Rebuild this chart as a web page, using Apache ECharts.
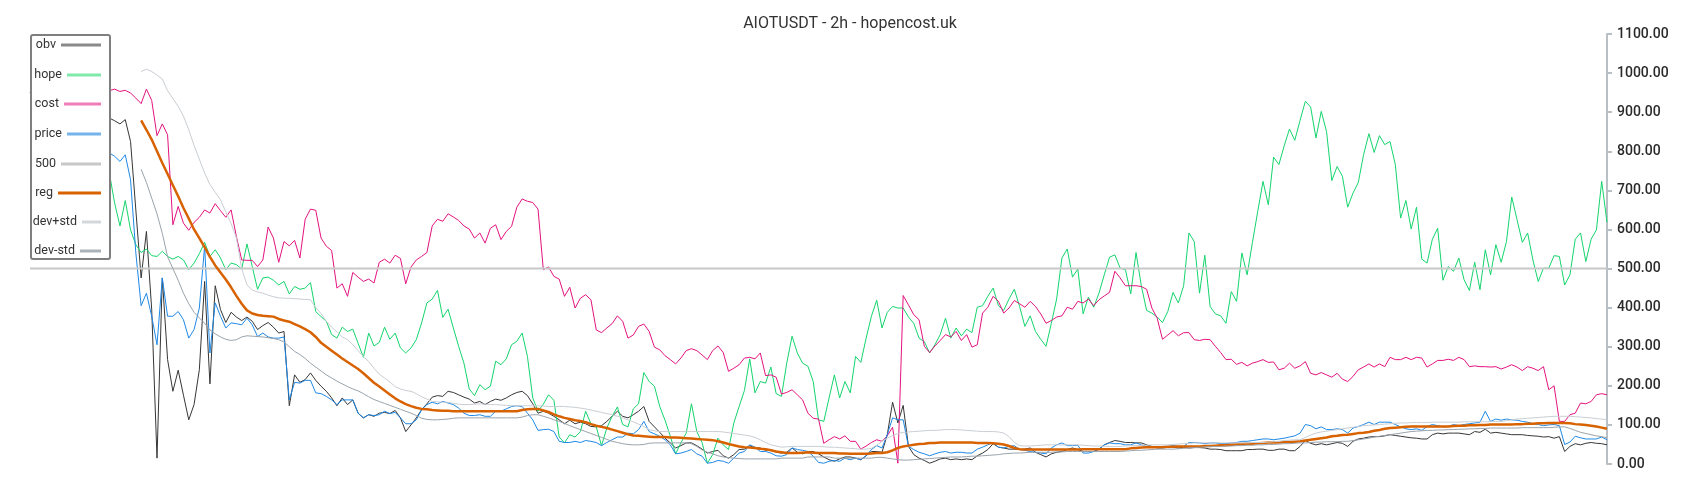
<!DOCTYPE html>
<html><head><meta charset="utf-8">
<script src="https://cdn.jsdelivr.net/npm/echarts@6.0.0/dist/echarts.min.js"></script>
<style>html,body{margin:0;padding:0;background:#fff}#chart{width:1700px;height:500px}</style>
</head><body><div id="chart"></div>
<script>
const chartTitle = 'AIOTUSDT - 2h - hopencost.uk';
const seriesNames = ['obv', 'hope', 'cost', 'price', '500', 'reg', 'dev+std', 'dev-std'];
const yMin = 0, yMax = 1100, yStep = 100;
const levelValue = 500;

const obv = [950,935,925,905,915,905,890,900,910,895,880,890,900,885,892,
885,878,870,881,825,650,476,595,395,15,476,267,186,240,176,113,152,241,467,205,456,395,362,388,376,367,376,365,344,354,362,350,335,339,149,228,209,216,233,214,199,186,169,149,169,152,164,130,118,126,122,130,132,129,137,118,83,100,118,139,154,171,175,173,186,
183,177,171,166,156,160,152,160,166,163,169,177,183,186,175,154,130,135,130,122,113,103,112,103,107,103,96,95,98,109,122,135,122,118,126,135,147,109,95,81,66,54,41,47,54,54,47,38,28,32,35,21,15,24,37,38,47,41,41,35,37,30,28,30,41,30,26,32,32,26,18,11,7,13,18,18,15,11,21,32,32,30,75,158,105,
150,45,24,15,9,2,7,13,15,11,13,11,13,11,21,28,37,52,43,41,38,38,37,38,41,30,24,18,26,30,32,37,41,37,32,32,32,38,49,55,60,58,55,55,54,54,49,45,41,41,43,43,41,43,41,42,42,41,38,38,37,34,34,34,34,37,37,38,38,35,35,38,38,34,34,
45,60,53,49,52,49,52,55,53,45,58,64,66,69,70,70,72,75,73,71,69,67,66,64,64,75,79,77,79,79,79,77,75,83,81,89,79,81,79,77,75,75,75,73,72,71,69,70,66,70,32,45,52,49,53,55,53,52,49];

const hope = [780,790,770,760,775,745,760,770,740,755,760,730,745,760,735,744,
667,609,674,599,561,541,550,533,531,544,531,524,531,522,497,514,538,567,531,548,527,497,514,510,499,563,505,447,476,478,470,458,467,435,454,447,450,464,390,377,365,331,322,350,339,
345,309,273,335,302,311,350,319,335,
297,284,297,318,361,412,422,444,375,396,348,301,258,192,175,203,190,199,263,254,269,305,314,335,275,169,135,153,177,163,69,54,75,69,83,135,103,95,47,92,122,146,101,95,141,154,234,211,199,147,112,71,26,54,79,154,83,55,2,24,66,49,37,105,147,188,269,182,211,207,248,180,173,258,327,284,258,250,211,113,109,169,228,169,211,182,275,260,322,378,419,348,388,403,399,
399,376,360,322,313,284,305,331,373,322,348,328,345,336,401,
405,429,450,405,393,422,447,403,352,379,339,319,301,360,422,527,550,478,499,384,427,401,437,484,529,535,501,497,435,541,456,393,386,376,362,390,439,412,456,591,569,437,534,403,384,379,360,441,416,540,484,567,646,723,663,785,766,814,857,828,
879,928,913,834,902,851,725,761,736,657,693,720,791,845,797,840,817,825,766,629,674,601,657,524,514,575,603,470,505,493,527,471,444,516,446,548,484,561,516,569,683,625,567,591,522,467,501,501,533,531,458,484,575,591,518,575,599,723,618];

const cost = [975,968,962,958,963,958,952,956,960,954,950,956,958,952,948,955,
959,953,956,949,936,922,959,930,840,870,842,612,659,616,598,618,631,650,642,666,648,631,650,582,522,521,521,505,522,606,578,516,569,558,572,527,626,652,649,578,557,546,450,461,429,
490,478,467,473,463,516,524,514,534,526,461,504,522,531,541,609,626,621,640,632,623,609,601,578,591,565,603,612,574,595,608,657,678,672,669,652,497,504,480,473,429,452,399,424,433,420,343,336,348,359,379,365,322,330,352,358,339,299,292,277,
267,256,271,290,295,290,279,267,290,302,285,237,245,254,271,273,269,284,226,228,222,179,183,190,177,164,130,117,115,53,62,70,64,72,58,58,38,46,55,62,58,72,94,2,431,407,382,369,301,285,302,316,331,325,339,316,331,299,305,
386,401,429,416,386,399,418,410,401,416,403,384,360,367,376,379,401,396,416,412,422,405,420,430,439,493,476,456,456,456,454,447,399,373,319,330,341,328,336,336,318,316,319,318,301,285,267,268,255,260,251,258,262,267,260,261,241,245,258,245,
251,262,232,228,234,228,222,232,217,211,224,241,248,256,248,256,249,273,267,267,273,267,273,271,248,256,265,265,268,265,273,267,249,251,249,249,248,249,243,248,254,248,239,249,245,239,249,190,200,109,109,126,130,156,154,160,177,180,177];

const price = [830,820,815,800,810,805,795,800,805,795,790,795,800,790,795,796,
787,774,791,727,540,405,437,378,305,476,378,378,390,369,322,344,399,557,284,412,378,348,361,359,356,373,356,326,335,325,322,322,325,164,209,207,214,214,182,180,173,164,152,164,164,164,130,118,126,124,126,135,129,132,118,103,103,113,139,152,158,154,160,156,
152,143,130,124,124,126,122,122,135,135,141,147,149,147,130,113,86,88,89,83,58,55,55,58,55,60,58,55,47,55,62,69,69,79,77,88,109,83,77,71,62,49,26,28,32,37,26,20,2,4,9,7,2,15,28,32,49,43,32,32,28,21,20,24,41,37,35,32,20,4,2,7,9,7,15,11,15,11,21,37,47,41,75,118,113,
113,45,37,30,26,21,26,30,32,28,30,30,28,28,38,43,49,55,43,41,45,47,37,35,32,30,28,26,41,49,54,47,47,48,28,28,32,38,49,54,52,52,49,49,54,49,45,43,43,45,45,47,45,45,55,55,54,52,54,54,52,52,54,55,58,58,60,62,64,64,62,64,66,69,72,79,
101,98,90,95,88,88,90,88,79,92,96,101,107,101,107,107,107,101,95,90,88,90,86,96,101,98,95,96,101,98,101,103,105,107,135,109,115,112,115,113,112,109,107,103,101,98,100,101,98,50,56,71,67,64,64,64,69,62];

const reg = [null,null,null,null,null,null,null,null,null,null,null,null,null,null,null,null,null,null,null,null,null,
879,855,830,800,770,742,713,685,655,628,600,578,555,530,508,490,472,452,430,410,393,385,381,379,378,377,371,367,364,358,352,345,337,325,310,300,290,280,270,261,252,243,232,220,208,198,188,178,168,160,153,148,144,141,140,138,137,136,136,
135,135,135,135,135,135,135,135,135,135,135,135,135,
138,140,141,141,137,133,127,122,118,115,112,110,107,102,98,95,92,88,84,80,76,73,72,71,70,69,69,69,68,68,67,66,65,64,63,62,61,58,55,51,48,45,43,42,41,39,38,35,32,30,28,28,28,29,30,29,28,28,28,28,27,27,26,26,26,26,27,28,28,30,35,41,
45,47,49,51,52,54,54,55,55,55,55,55,55,55,54,54,54,53,52,50,46,41,38,37,37,37,37,37,37,37,37,37,37,37,38,38,38,38,38,38,38,38,38,40,41,42,43,43,43,43,44,44,45,45,45,45,45,46,46,47,48,48,49,50,51,52,52,53,54,55,55,55,56,56,57,58,
60,62,64,66,68,71,72,74,75,77,79,80,82,85,87,90,92,93,94,95,96,96,96,96,96,96,96,96,97,98,98,99,99,100,100,101,101,101,101,101,102,102,103,103,104,104,105,105,105,105,104,102,101,100,98,96,93,90];

const devPlus = [null,null,null,null,null,null,null,null,null,null,null,null,null,null,null,null,null,null,null,null,null,
1004,1010,1004,995,985,955,935,915,890,855,815,780,744,715,695,676,645,615,578,500,458,445,440,437,432,428,425,424,424,423,422,421,420,400,385,365,350,338,325,318,305,290,275,262,245,230,220,210,198,192,188,186,180,172,166,160,159,158,158,
155,153,152,152,153,154,153,152,152,151,150,149,149,149,149,149,149,148,147,147,147,147,146,145,143,141,138,135,132,129,126,122,118,113,108,102,96,88,85,83,83,83,83,83,83,83,83,83,83,83,83,82,80,78,76,74,72,68,62,55,49,46,43,44,45,45,45,45,45,45,44,43,43,42,41,40,39,38,38,40,48,58,66,73,78,
81,82,83,84,85,86,86,87,88,88,88,87,86,85,84,83,83,83,82,79,70,55,47,46,46,47,48,49,49,49,49,49,49,49,48,47,46,46,45,45,45,45,46,47,47,48,48,49,49,49,49,50,51,52,53,54,54,54,54,54,54,54,54,54,54,54,55,55,55,56,57,58,60,61,62,62,
68,74,79,82,84,86,88,90,92,94,96,98,99,100,101,102,103,104,105,105,106,106,106,106,107,107,107,107,107,107,108,108,108,108,108,109,109,109,111,113,115,116,117,118,119,120,121,122,122,122,122,121,120,119,118,116,115,113];

const devMinus = [null,null,null,null,null,null,null,null,null,null,null,null,null,null,null,null,null,null,null,null,null,
754,720,680,640,590,530,500,470,437,410,388,374,360,343,333,325,319,316,318,325,328,327,326,325,323,321,318,312,300,288,280,270,258,248,238,228,220,212,205,198,192,187,180,172,165,160,155,150,145,140,135,130,124,117,114,113,113,114,115,
117,118,118,118,118,118,118,118,118,118,118,118,118,120,124,126,126,122,118,113,109,104,98,93,88,83,78,73,68,63,58,55,52,50,49,49,50,53,54,54,54,54,54,54,54,52,45,36,30,26,21,18,16,15,14,13,13,13,13,13,13,13,15,15,15,15,15,18,18,18,18,18,15,15,15,15,15,15,15,15,17,17,15,13,11,
10,10,11,12,13,14,15,16,17,18,18,18,19,20,20,21,22,23,24,26,27,28,28,29,30,30,30,30,30,31,31,32,32,32,32,32,32,32,32,32,32,32,33,34,35,35,36,37,38,38,38,38,39,40,41,42,43,44,45,45,45,46,46,47,47,48,48,49,49,50,50,51,52,52,53,54,
54,55,56,56,57,57,57,58,58,60,62,64,66,69,71,73,75,77,79,81,83,84,85,86,86,87,87,88,88,89,89,90,90,91,91,92,92,92,92,92,92,93,93,93,93,93,93,94,95,95,91,86,81,78,75,72,70,67];

const categories = obv.map((_, i) => String(i));
const level500 = categories.map(() => levelValue);

const seriesData = [obv, hope, cost, price, level500, reg, devPlus, devMinus];
const lineColors = ['#363636', '#14d46c', '#e3127f', '#1e88e5', '#c8c8c8', '#d86200', '#c9ced3', '#9aa3ab'];
const lineWidths = [1, 1, 1, 1, 2, 2.5, 1, 1];
const iconColors = ['#8a8a8a', '#80e9a9', '#f07cb8', '#74b3ec', '#c8c8c8', '#d86200', '#d3d7db', '#aab2b9'];
const iconWidths = [40, 34, 37, 34, 40, 43, 19, 21];
const legendRowY = [45, 75, 104, 134, 164, 193, 222, 251];

const chart = echarts.init(document.getElementById('chart'), null, {renderer: 'canvas'});

const legends = seriesNames.map((name, k) => ({
  data: [{name: name, icon: 'rect', itemStyle: {color: iconColors[k], borderWidth: 0}}],
  orient: 'horizontal',
  align: 'right',
  right: 1599,
  top: legendRowY[k] - 8,
  itemWidth: iconWidths[k],
  itemHeight: 3,
  padding: 0,
  selectedMode: false,
  z: 6,
  textStyle: {fontSize: 12.5, color: '#333', fontFamily: 'Roboto', lineHeight: 16}
}));

chart.setOption({
  animation: false,
  backgroundColor: '#fff',
  title: {
    text: chartTitle, left: 'center', top: 11,
    textStyle: {fontSize: 16, fontWeight: 'normal', color: '#333', fontFamily: 'Roboto'}
  },
  legend: legends,
  graphic: [{
    type: 'rect', z: 3, silent: true,
    shape: {x: 31, y: 35, width: 79, height: 224, r: 2},
    style: {fill: '#fff', stroke: '#7f7f7f', lineWidth: 2}
  }],
  grid: {left: 30, right: 93, top: 34, bottom: 36, containLabel: false},
  xAxis: {type: 'category', data: categories, boundaryGap: false, show: false},
  yAxis: {
    type: 'value', position: 'right', min: yMin, max: yMax, interval: yStep,
    axisLine: {show: true, lineStyle: {color: '#b8c0c6', width: 2}},
    axisTick: {show: true, length: 5, lineStyle: {color: '#b8c0c6', width: 2}},
    axisLabel: {formatter: v => v.toFixed(2), fontSize: 14, color: '#2a2a2a', fontWeight: 500, margin: 10, fontFamily: 'Roboto'},
    splitLine: {show: false}
  },
  series: seriesNames.map((name, k) => ({
    name: name, type: 'line', data: seriesData[k], symbol: 'none',
    connectNulls: false, z: 2,
    lineStyle: {color: lineColors[k], width: lineWidths[k]},
    itemStyle: {color: lineColors[k]}
  }))
});
</script>
</body></html>
